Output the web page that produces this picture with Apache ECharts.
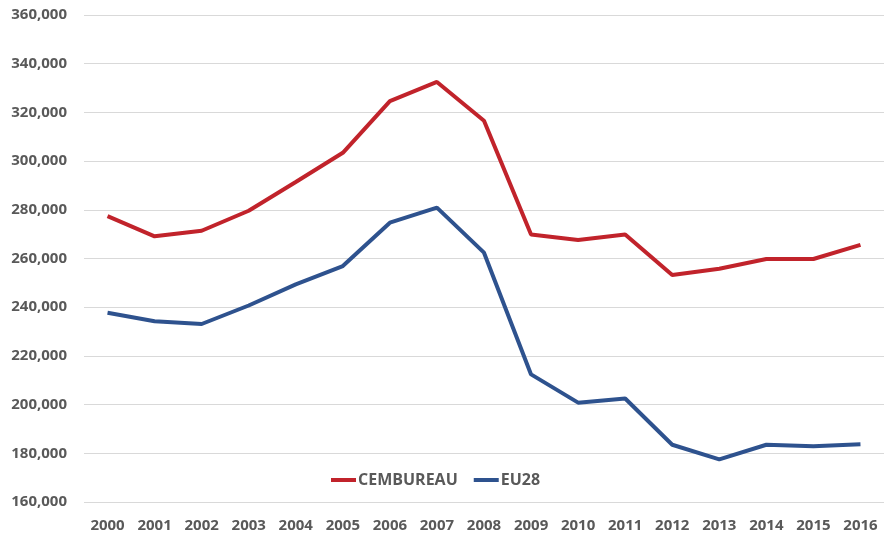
<!DOCTYPE html>
<html>
<head>
<meta charset="utf-8">
<script src="https://cdn.jsdelivr.net/npm/echarts@6/dist/echarts.min.js"></script>
<style>
html,body{margin:0;padding:0;background:#fff;}
#chart{width:892px;height:538px;}
</style>
</head>
<body>
<div id="chart"></div>
<script>
const years = ['2000','2001','2002','2003','2004','2005','2006','2007','2008','2009','2010','2011','2012','2013','2014','2015','2016'];
const cembureau = [277400,269100,271400,279600,291400,303400,324600,332500,316600,269900,267600,269900,253200,255800,259800,259800,265600];
const eu28 = [237700,234200,233100,240700,249400,256900,274700,280900,262400,212400,200800,202500,183500,177500,183500,182900,183700];
const seriesNames = ['CEMBUREAU','EU28'];
const yMin = 160000, yMax = 360000, yStep = 20000;

const textColor = '#595959';
const fontFam = '"Open Sans", "DejaVu Sans", sans-serif';
const chart = echarts.init(document.getElementById('chart'));
chart.setOption({
  animation: false,
  backgroundColor: '#ffffff',
  grid: {left: 84, right: 8, top: 15, bottom: 36, containLabel: false},
  legend: {
    left: 326, top: 467,
    icon: 'rect', itemWidth: 25, itemHeight: 4, itemGap: 16,
    textStyle: {color: textColor, fontSize: 16, fontWeight: 'bold', fontFamily: fontFam, padding: [0, 0, 0, -3]},
    data: seriesNames
  },
  xAxis: {
    type: 'category', data: years, boundaryGap: true,
    axisLine: {show: false}, axisTick: {show: false},
    axisLabel: {color: textColor, fontSize: 15, fontWeight: 'bold', fontFamily: fontFam, margin: 16, interval: 0}
  },
  yAxis: {
    type: 'value', min: yMin, max: yMax, interval: yStep,
    axisLine: {show: false}, axisTick: {show: false},
    splitLine: {lineStyle: {color: '#d9d9d9', width: 1}},
    axisLabel: {color: textColor, fontSize: 15, fontWeight: 'bold', fontFamily: fontFam, margin: 17,
      formatter: v => v.toLocaleString('en-US')}
  },
  series: [
    {name: seriesNames[0], type: 'line', data: cembureau, symbol: 'none', lineStyle: {color: '#c1232b', width: 4}, itemStyle: {color: '#c1232b'}},
    {name: seriesNames[1], type: 'line', data: eu28, symbol: 'none', lineStyle: {color: '#2e528e', width: 4}, itemStyle: {color: '#2e528e'}}
  ]
});
</script>
</body>
</html>
